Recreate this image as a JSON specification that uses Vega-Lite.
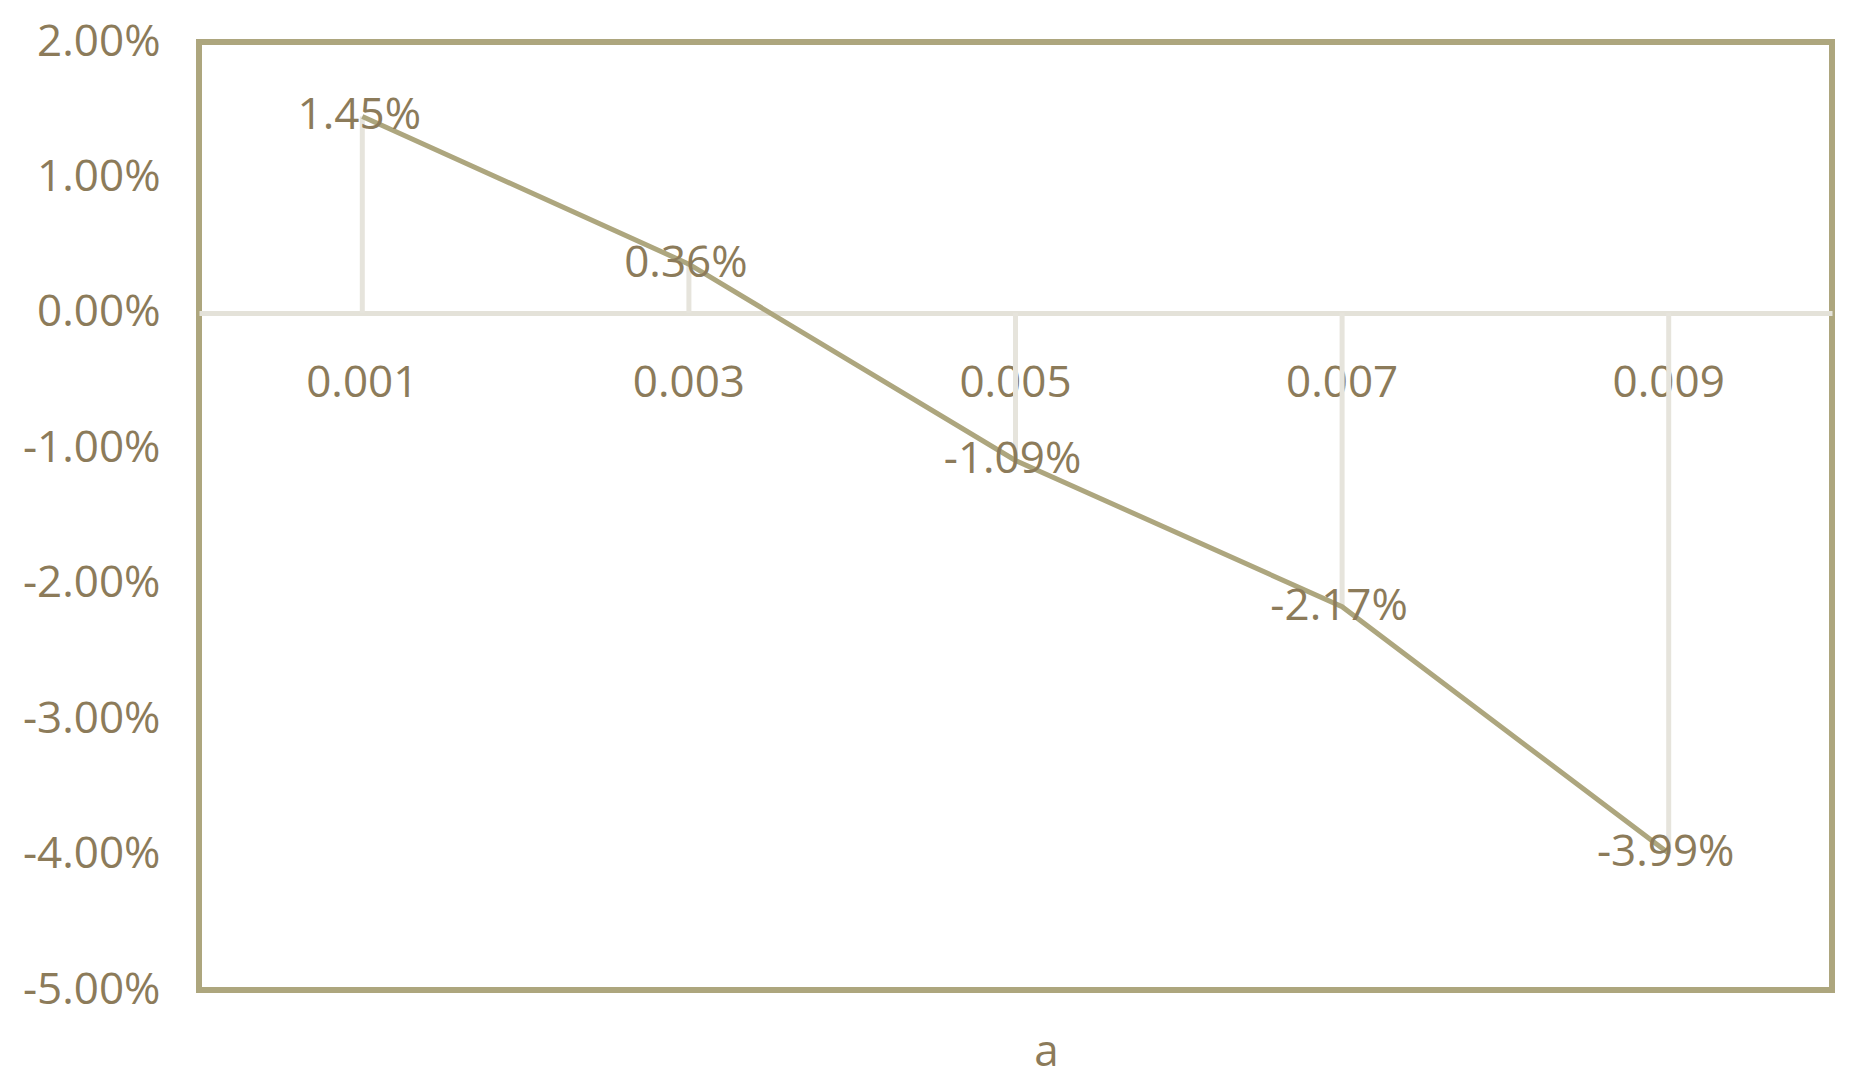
{
  "$schema": "https://vega.github.io/schema/vega-lite/v6.json",
  "autosize": {"type": "none"},
  "padding": {"left": 199, "top": 42, "right": 28, "bottom": 93},
  "width": 1633,
  "height": 948,
  "background": "white",
  "data": {
    "values": [
      {"a": "0.001", "v": 0.0145},
      {"a": "0.003", "v": 0.0036},
      {"a": "0.005", "v": -0.0109},
      {"a": "0.007", "v": -0.0217},
      {"a": "0.009", "v": -0.0399}
    ]
  },
  "encoding": {
    "x": {
      "field": "a",
      "type": "ordinal",
      "scale": {"type": "band", "paddingInner": 0, "paddingOuter": 0},
      "axis": {
        "title": "a",
        "labelAngle": 0,
        "offset": -677,
        "ticks": false,
        "domain": true,
        "domainColor": "#E4E2D9",
        "domainWidth": 5,
        "labelPadding": 70,
        "labelBaseline": "middle",
        "labelFont": "Open Sans",
        "labelFontSize": 44,
        "labelColor": "#8C7B5A",
        "titleFont": "Open Sans",
        "titleFontSize": 44,
        "titleFontWeight": "normal",
        "titleColor": "#8C7B5A",
        "titleX": 847,
        "titleY": 752,
        "titleBaseline": "alphabetic",
        "grid": false
      }
    },
    "y": {
      "field": "v",
      "type": "quantitative",
      "scale": {"domain": [-0.05, 0.02], "nice": false, "zero": false},
      "axis": {
        "title": null,
        "format": ".2%",
        "labelExpr": "replace(datum.label, '\u2212', '-')",
        "values": [-0.05, -0.04, -0.03, -0.02, -0.01, 0, 0.01, 0.02],
        "grid": false,
        "domain": false,
        "ticks": false,
        "labelPadding": 39,
        "labelFont": "Open Sans",
        "labelFontSize": 44,
        "labelColor": "#8C7B5A",
        "labelBaseline": "middle"
      }
    }
  },
  "layer": [
    {
      "mark": {"type": "rule", "color": "#E6E4DC", "strokeWidth": 5},
      "encoding": {"y2": {"datum": 0}}
    },
    {
      "mark": {"type": "line", "color": "#ADA67E", "strokeWidth": 5}
    },
    {
      "mark": {
        "type": "text",
        "font": "Open Sans",
        "fontSize": 44,
        "color": "#8C7B5A",
        "align": "center",
        "baseline": "middle",
        "dx": -3,
        "text": {"expr": "replace(format(datum.v, '.2%'), '\u2212', '-')"}
      }
    }
  ],
  "config": {
    "view": {"stroke": "#ADA67E", "strokeWidth": 6}
  }
}
